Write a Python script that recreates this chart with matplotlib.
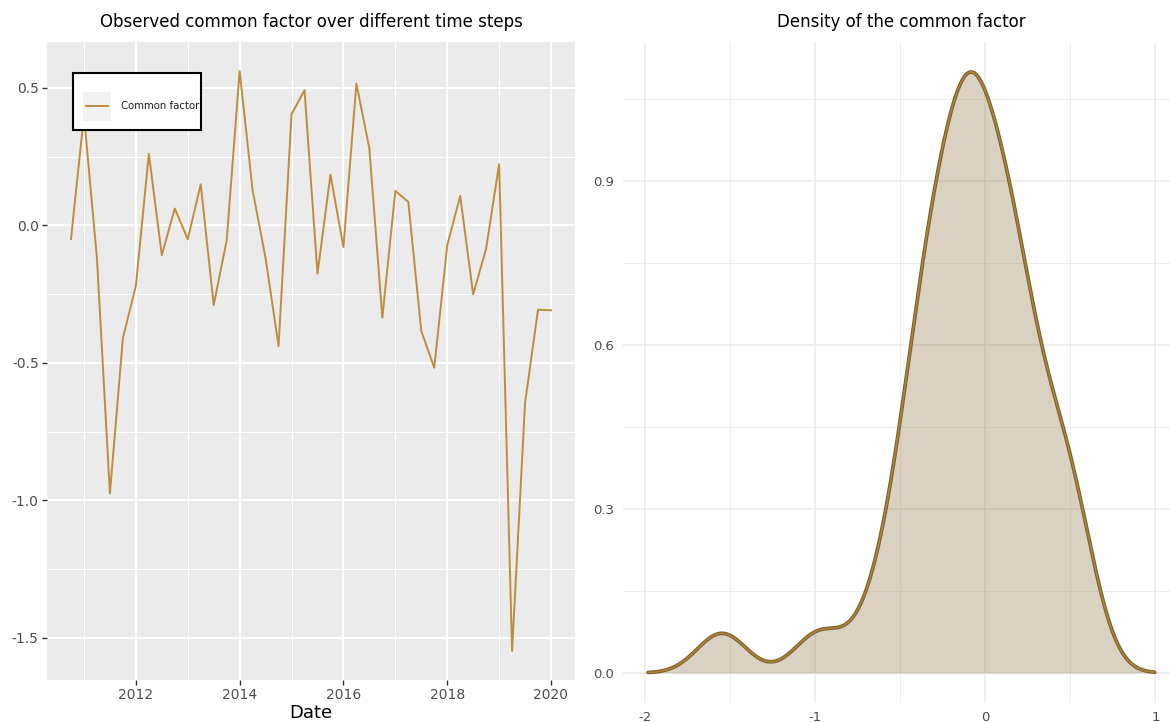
import numpy as np
import pandas as pd
import matplotlib
matplotlib.use('Agg')
import matplotlib.pyplot as plt
from matplotlib.patches import Rectangle
from matplotlib.lines import Line2D

plt.rcParams['font.family'] = ['DejaVu Sans']
plt.rcParams['axes.unicode_minus'] = False

# ---------------- data ----------------
dates = pd.date_range('2010-10-01', '2020-01-01', freq='QS')
factor = [-0.05, 0.40, -0.12, -0.975, -0.41, -0.22, 0.26, -0.109, 0.061, -0.051,
          0.149, -0.29, -0.055, 0.561, 0.127, -0.12, -0.439, 0.404, 0.491, -0.176,
          0.184, -0.079, 0.515, 0.279, -0.336, 0.125, 0.085, -0.384, -0.518, -0.073,
          0.107, -0.251, -0.085, 0.222, -1.548, -0.646, -0.307, -0.309]
series_label = 'Common factor'
left_title = 'Observed common factor over different time steps'
right_title = 'Density of the common factor'
x_label = 'Date'
year_ticks = [2012, 2014, 2016, 2018, 2020]
year_minor = [2011, 2013, 2015, 2017, 2019]
factor_ticks = [-1.5, -1.0, -0.5, 0.0, 0.5]
factor_minor = [-1.25, -0.75, -0.25, 0.25]
dens_xticks = [-2, -1, 0, 1]
dens_xminor = [-1.5, -0.5, 0.5]
dens_yticks = [0.0, 0.3, 0.6, 0.9]
dens_yminor = [0.15, 0.45, 0.75, 1.05]

line_color = '#C08D3E'

# ---------------- figure ----------------
W, H = 1170, 722
fig = plt.figure(figsize=(W / 100, H / 100), dpi=100)


def rect(x0, y0, x1, y1):
    return [x0 / W, 1 - y1 / H, (x1 - x0) / W, (y1 - y0) / H]


# ---------- left panel ----------
xdec = np.asarray(dates.year + (dates.month - 1) / 12.0, dtype=float)
yv = np.asarray(factor)
ax1 = fig.add_axes(rect(47, 42, 575, 680))
ax1.set_facecolor('#EBEBEB')
ax1.plot(xdec, yv, color=line_color, lw=1.4, zorder=3)
xr = xdec.max() - xdec.min()
ax1.set_xlim(xdec.min() - 0.05 * xr, xdec.max() + 0.05 * xr)
yr = yv.max() - yv.min()
ax1.set_ylim(yv.min() - 0.05 * yr, yv.max() + 0.05 * yr)
ax1.set_xticks(year_ticks)
ax1.set_xticklabels([str(t) for t in year_ticks])
ax1.set_xticks(year_minor, minor=True)
ax1.set_yticks(factor_ticks)
ax1.set_yticklabels(['%.1f' % t for t in factor_ticks])
ax1.set_yticks(factor_minor, minor=True)
ax1.grid(which='major', color='white', lw=1.5)
ax1.grid(which='minor', color='white', lw=0.75)
ax1.set_axisbelow(True)
for s in ax1.spines.values():
    s.set_visible(False)
ax1.tick_params(which='major', length=3.5, width=1, color='#333333',
                labelcolor='#4D4D4D', labelsize=10, pad=2.5)
ax1.tick_params(which='minor', length=0)
ax1.set_xlabel(x_label, fontsize=13, labelpad=1.5, color='black')

fig.text(311 / W, 1 - 22 / H, left_title, ha='center', va='center', fontsize=12)

# legend (manual, ggplot-like, clipped at the box edge)
legend_box = Rectangle(((73) / W, 1 - 130 / H), 128 / W, 57 / H, transform=fig.transFigure,
                       facecolor='white', edgecolor='black', lw=1.5, zorder=5)
fig.patches.append(legend_box)
key_bg = Rectangle((83 / W, 1 - 121 / H), 28 / W, 29 / H, transform=fig.transFigure,
                   facecolor='#F2F2F2', edgecolor='none', zorder=6)
fig.patches.append(key_bg)
fig.lines.append(Line2D([86 / W, 108 / W], [1 - 106 / H, 1 - 106 / H], transform=fig.transFigure,
                        color=line_color, lw=1.4, zorder=7))
t = fig.text(121 / W, 1 - 106 / H, series_label, ha='left', va='center', fontsize=7.3,
             color='#1A1A1A', zorder=8)
t.set_clip_path(legend_box)

# ---------- right panel: density ----------
n = len(yv)
sd = yv.std(ddof=1)
q75, q25 = np.percentile(yv, [75, 25])
bw = 0.9 * min(sd, (q75 - q25) / 1.34) * n ** -0.2
grid = np.linspace(yv.min() - 3 * bw, yv.max() + 3 * bw, 512)
dens = np.exp(-0.5 * ((grid[:, None] - yv[None, :]) / bw) ** 2).sum(1) / (n * bw * np.sqrt(2 * np.pi))

ax2 = fig.add_axes(rect(622.7, 42, 1180, 703))
ax2.set_facecolor('white')
ax2.fill_between(grid, dens, color='#846C3A', alpha=0.3, lw=0, zorder=2)
ax2.plot(grid, dens, color='#7E6230', lw=2.7, zorder=3, solid_capstyle='round')
ax2.plot(grid, dens, color='#AD8438', lw=1.1, zorder=4, solid_capstyle='round')
gr = grid.max() - grid.min()
ax2.set_xlim(grid.min() - 0.05 * gr, grid.max() + 0.05 * gr)
ax2.set_ylim(-0.05 * dens.max(), dens.max() * 1.05)
ax2.set_xticks(dens_xticks)
ax2.set_xticklabels([str(t) for t in dens_xticks])
ax2.set_xticks(dens_xminor, minor=True)
ax2.set_yticks(dens_yticks)
ax2.set_yticklabels(['%.1f' % t for t in dens_yticks])
ax2.set_yticks(dens_yminor, minor=True)
ax2.grid(which='major', color='#EBEBEB', lw=1.1)
ax2.grid(which='minor', color='#EBEBEB', lw=0.6)
ax2.set_axisbelow(True)
for s in ax2.spines.values():
    s.set_visible(False)
ax2.tick_params(which='both', length=0, labelcolor='#4D4D4D', labelsize=9.5, pad=6)

fig.text(901 / W, 1 - 22 / H, right_title, ha='center', va='center', fontsize=12)

fig.savefig('out.png', dpi=100)
